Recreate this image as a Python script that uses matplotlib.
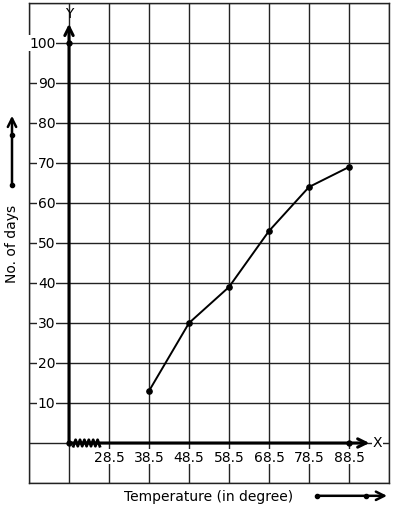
import numpy as np
import matplotlib
matplotlib.use("Agg")
import matplotlib.pyplot as plt

# data
temps = [38.5, 48.5, 58.5, 68.5, 78.5, 88.5]
days = [13, 30, 39, 53, 64, 69]
x_ticks = [28.5, 38.5, 48.5, 58.5, 68.5, 78.5, 88.5]
y_ticks = [10, 20, 30, 40, 50, 60, 70, 80, 90, 100]

origin_x = 18.5
fs = 10

fig = plt.figure(figsize=(3.94, 5.10), dpi=100)
ax = fig.add_axes([29 / 394, 26 / 510, 360 / 394, 480 / 510])
ax.set_xlim(8.5, 98.5)
ax.set_ylim(-10, 110)
ax.set_xticks(np.arange(8.5, 99, 10))
ax.set_yticks(np.arange(-10, 111, 10))
ax.grid(True, color="#222222", lw=1.0)
ax.tick_params(length=0, labelbottom=False, labelleft=False)
for s in ax.spines.values():
    s.set_color("#222222")
    s.set_linewidth(1.0)
ax.set_axisbelow(True)

box = dict(facecolor="white", edgecolor="none", pad=0.5)
head = "->,head_length=0.6,head_width=0.3"

# axes with arrows
ax.annotate("", xy=(origin_x, 104.8), xytext=(origin_x, 0),
            arrowprops=dict(arrowstyle=head, lw=2.2, color="black",
                            shrinkA=0, shrinkB=0))
ax.annotate("", xy=(93.6, 0), xytext=(origin_x, 0),
            arrowprops=dict(arrowstyle=head, lw=2.2, color="black",
                            shrinkA=0, shrinkB=0))
ax.text(origin_x, 107.4, "Y", ha="center", va="center", fontsize=fs,
        zorder=5, clip_on=False)
ax.text(95.6, 0.2, "X", ha="center", va="center", fontsize=fs, bbox=box)

# kink on x axis
zx = np.linspace(19.6, 26.2, 13)
zy = np.where(np.arange(13) % 2 == 0, -0.8, 0.8)
ax.plot(zx, zy, color="black", lw=2.0)

ax.plot([origin_x, origin_x, 88.5], [0, 100, 0], "o", color="black", ms=3.5)

# data line
ax.plot(temps, days, color="black", lw=1.4, marker="o", ms=3.8)

# tick labels
for v in y_ticks:
    ax.text(15.1, v, str(v), ha="right", va="center", fontsize=fs, bbox=box)
for t in x_ticks:
    ax.text(t, -3.4, str(t), ha="center", va="center", fontsize=fs, bbox=box)

# axis titles with side arrows
ax.text(4.25, 50, "No. of days", rotation=90, ha="center", va="center",
        fontsize=fs, clip_on=False)
ax.annotate("", xy=(4.25, 81.8), xytext=(4.25, 64.5),
            arrowprops=dict(arrowstyle=head, lw=1.8, color="black",
                            shrinkA=0, shrinkB=0),
            annotation_clip=False)
ax.plot([4.25, 4.25], [64.5, 77], "o", color="black", ms=3, clip_on=False)

ax.text(53.3, -13.2, "Temperature (in degree)", ha="center", va="center",
        fontsize=fs, clip_on=False)
ax.annotate("", xy=(98.0, -13.2), xytext=(80.5, -13.2),
            arrowprops=dict(arrowstyle=head, lw=1.8, color="black",
                            shrinkA=0, shrinkB=0),
            annotation_clip=False)
ax.plot([80.5, 92.8], [-13.2, -13.2], "o", color="black", ms=3, clip_on=False)

fig.savefig("out.png", dpi=100)
